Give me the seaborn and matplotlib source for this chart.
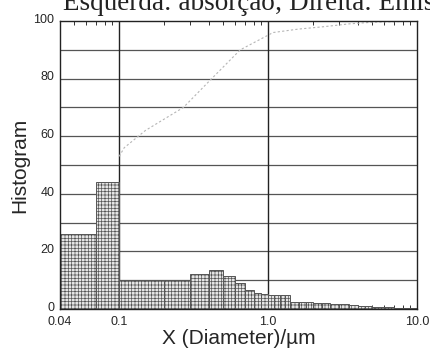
import numpy as np
import pandas as pd
import seaborn as sns
import matplotlib.pyplot as plt
import matplotlib.transforms as mtransforms
from matplotlib.ticker import FixedLocator, NullFormatter

# bin edges (um) and histogram heights
bin_edges = [0.04, 0.07, 0.1, 0.2, 0.3, 0.4, 0.5, 0.6, 0.7, 0.8, 0.9, 1.0,
             1.1, 1.2, 1.3, 1.4, 1.6, 1.8, 2.0, 2.3, 2.6, 3.0, 3.5, 4.0,
             4.5, 5.0, 6.0, 7.0, 8.0, 9.0, 10.0]
bin_heights = [26, 44, 10, 10, 12, 13.5, 11.5, 9, 6.5, 5.5, 5.2,
               5.0, 4.9, 4.8, 4.7, 2.5, 2.4, 2.3, 2.2, 2.0, 1.9, 1.7, 1.4,
               1.2, 1.0, 0.8, 0.6, 0.5, 0.4, 0.3]

# faint dotted cumulative curve
cum_x = [0.1, 0.108, 0.15, 0.27, 0.4, 0.65, 1.08, 1.6, 2.34, 3.5, 5.1, 7.5, 10.0]
cum_y = [53, 56, 62, 70, 79, 90, 96, 97.2, 98, 99, 99.6, 99.8, 100]

tick_vals = [0.04, 0.1, 1.0, 10.0]
tick_labels = ['0.04', '0.1', '1.0', '10.0']

sns.set_style('white')
plt.rcParams['font.family'] = ['Liberation Sans', 'DejaVu Sans']
plt.rcParams['hatch.color'] = '#a5a5a5'
plt.rcParams['hatch.linewidth'] = 0.5

edges = np.array(bin_edges)
df = pd.DataFrame({'x': np.sqrt(edges[:-1] * edges[1:]), 'h': bin_heights})

fig = plt.figure(figsize=(4.3, 3.49), dpi=100)
ax = fig.add_axes([0.1395, 0.1146, 0.8303, 0.8252])

# grid behind the bars
ax.set_axisbelow(True)
for yv in range(10, 100, 10):
    ax.axhline(yv, color='#555555', lw=0.9, zorder=0)
for xv in [0.1, 1.0]:
    ax.axvline(xv, color='#222222', lw=1.0, zorder=0)

sns.histplot(data=df, x='x', weights='h', bins=bin_edges, stat='count',
             color='#e6e6e6', edgecolor='#555555', linewidth=0.7,
             hatch='+++++', alpha=1, ax=ax)

sns.lineplot(x=cum_x, y=cum_y, color='#b5b5b5', lw=0.8, linestyle=(0, (2, 2)), ax=ax)

ax.set_xscale('log')
ax.set_xlim(0.04, 10.0)
ax.set_ylim(0, 100)
ax.xaxis.set_major_locator(FixedLocator(tick_vals))
ax.set_xticklabels(tick_labels)
minor = [v * m for v in [0.01, 0.1, 1.0] for m in range(2, 10) if 0.04 < v * m < 10]
ax.xaxis.set_minor_locator(FixedLocator(minor))
ax.xaxis.set_minor_formatter(NullFormatter())
ax.set_yticks([0, 20, 40, 60, 80, 100])
ax.tick_params(axis='x', which='both', direction='in', top=True, bottom=True,
               length=3, width=0.7, color='#333333', labelsize=9, pad=5)
ax.tick_params(axis='x', which='major', length=0)
ax.tick_params(axis='y', length=0, labelsize=9, pad=4)

# y tick labels sit a touch above their gridline in the scan
shift = mtransforms.ScaledTranslation(0, 2 / 72, fig.dpi_scale_trans)
for lab in ax.get_yticklabels():
    lab.set_transform(lab.get_transform() + shift)

for s in ax.spines.values():
    s.set_color('#222222')
    s.set_linewidth(1.0)

ax.set_xlabel('X (Diameter)/\u00b5m', fontsize=15, labelpad=1)
ax.set_ylabel('Histogram', fontsize=15, labelpad=3)

# the cropped caption along the top edge
fig.text(0.147, 1 - 10 / 349, 'Esquerda: absorção; Direita: Emissão',
         family=['Liberation Serif', 'DejaVu Serif'], fontsize=19.5,
         va='baseline', ha='left', color='#222222')

fig.savefig('out.png', dpi=100)
